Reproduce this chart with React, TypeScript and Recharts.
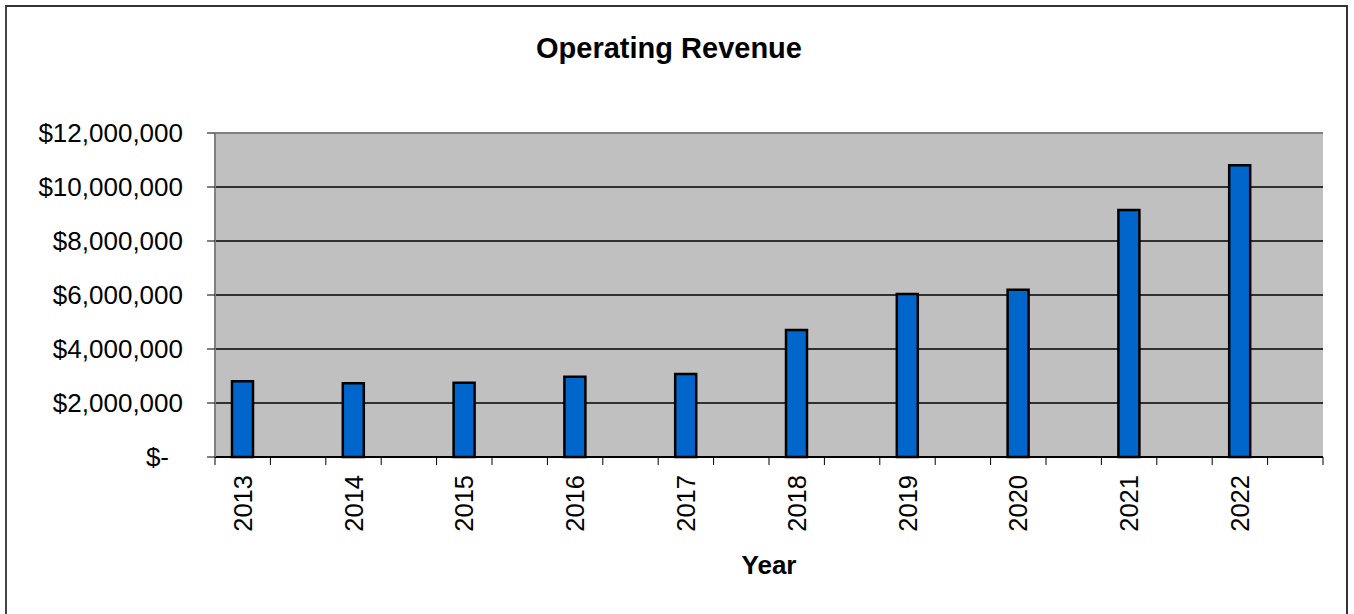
import { BarChart, Bar, XAxis, YAxis, CartesianGrid, ReferenceLine, Label } from 'recharts'

const years = ['2013', '2014', '2015', '2016', '2017', '2018', '2019', '2020', '2021', '2022']
const revenue = [2810000, 2730000, 2750000, 2970000, 3070000, 4700000, 6040000, 6190000, 9150000, 10810000]
const yTicks = [0, 2000000, 4000000, 6000000, 8000000, 10000000, 12000000]

// each year is followed by an empty slot, like the source sheet
const table = years.flatMap((y, i) => [
  { slot: `y${y}`, label: y, revenue: revenue[i] },
  { slot: `gap${y}`, label: '', revenue: null as number | null },
])

const W = 1354
const H = 614
const LEFT = 215
const RIGHT = 31
const BAND = (W - LEFT - RIGHT) / table.length
const FONT = '"Liberation Sans", Arial, sans-serif'

const money = (v: number) => (v === 0 ? '$-' : '$' + v.toLocaleString('en-US'))

function YTick({ x, y, payload }: any) {
  const zero = payload.value === 0
  return (
    <text x={zero ? x - 14 : x} y={y} dy="0.35em" textAnchor="end" fontSize={26} fill="#000" fontFamily={FONT}>
      {money(payload.value)}
    </text>
  )
}

function XTick({ x, y, payload, index }: any) {
  const i = payload.index ?? index
  const row = table[i]
  const last = i === table.length - 1
  return (
    <g>
      <line x1={x - BAND / 2} x2={x - BAND / 2} y1={y} y2={y + 8} stroke="#000" />
      {last && <line x1={x + BAND / 2} x2={x + BAND / 2} y1={y} y2={y + 8} stroke="#000" />}
      {row && row.label && (
        <text
          x={x}
          y={y + 18}
          dy="0.36em"
          textAnchor="end"
          transform={`rotate(-90 ${x} ${y + 18})`}
          fontSize={25.5}
          fill="#000"
          fontFamily={FONT}
        >
          {row.label}
        </text>
      )}
    </g>
  )
}

export default function App() {
  return (
    <div style={{ position: 'absolute', left: 0, top: 0, width: W, height: H, overflow: 'hidden', background: '#fff', fontFamily: FONT }}>
      <div
        style={{
          position: 'absolute',
          left: 5,
          top: 5,
          width: W - 11,
          height: H,
          borderLeft: '2px solid #444',
          borderTop: '2px solid #333',
          borderRight: '2px solid #333',
          boxSizing: 'border-box',
        }}
      />
      <div
        style={{
          position: 'absolute',
          left: 0,
          width: 1338,
          top: 34,
          textAlign: 'center',
          fontSize: 29,
          lineHeight: '29px',
          fontWeight: 'bold',
          color: '#000',
        }}
      >
        Operating Revenue
      </div>
      <BarChart
        width={W}
        height={H}
        data={table}
        margin={{ top: 133, right: RIGHT, bottom: 0, left: 0 }}
        barCategoryGap={16}
        style={{ position: 'absolute', left: 0, top: 0 }}
      >
        <CartesianGrid vertical={false} stroke="#000" strokeWidth={1.3} fill="#C0C0C0" />
        <XAxis
          dataKey="slot"
          type="category"
          height={157}
          interval={0}
          tickSize={0}
          tickMargin={0}
          tickLine={false}
          axisLine={{ stroke: '#000', strokeWidth: 2 }}
          tick={<XTick />}
        >
          <Label value="Year" position="insideBottom" offset={40} fontSize={26} fontWeight="bold" fill="#000" fontFamily={FONT} />
        </XAxis>
        <YAxis
          width={LEFT}
          domain={[0, 12000000]}
          ticks={yTicks}
          interval={0}
          tickSize={8}
          tickMargin={24}
          tickLine={{ stroke: '#000' }}
          axisLine={{ stroke: '#808080', strokeWidth: 2 }}
          tick={<YTick />}
        />
        <YAxis yAxisId="r" orientation="right" width={0} tick={false} tickLine={false} axisLine={{ stroke: '#808080', strokeWidth: 2 }} />
        <ReferenceLine y={12000000} stroke="#808080" strokeWidth={2} />
        <Bar dataKey="revenue" fill="#0066CC" stroke="#000" strokeWidth={2.5} barSize={21} isAnimationActive={false} />
      </BarChart>
    </div>
  )
}
